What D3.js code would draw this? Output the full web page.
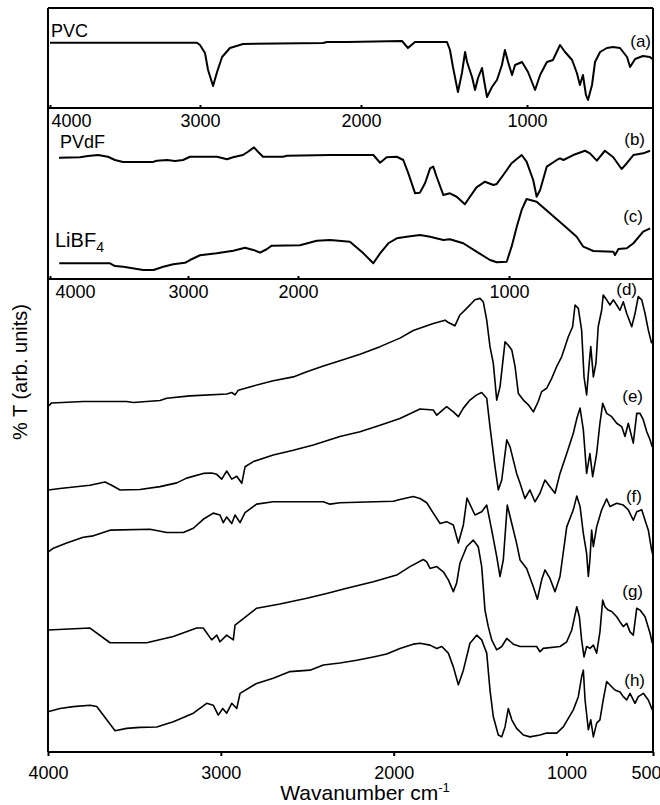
<!DOCTYPE html>
<html>
<head>
<meta charset="utf-8">
<script src="https://cdn.jsdelivr.net/npm/d3@7"></script>
<style>
  body { margin: 0; background: #fff; }
  text { font-family: Arial, "Liberation Sans", sans-serif; fill: #000; }
  .tick line { stroke: #000; stroke-width: 2; }
  .spec { fill: none; stroke: #000; stroke-linejoin: round; }
</style>
</head>
<body>
<div id="chart"></div>
<script>
// FTIR spectra, [wavenumber cm-1, %T in arb. units]
var pvc = [[4000,65.3],[3020,65.3],[3000,63],[2969,55],[2950,38],[2919,22],[2894,36],[2863,51],[2814,60],[2733,64],[2236,65],[2211,66],[2087,66],[1753,67],[1717,60],[1675,66],[1482,66],[1464,58],[1446,41],[1416,16],[1392,35],[1373,56],[1361,46],[1331,31],[1313,18],[1295,30],[1271,40],[1259,28],[1241,11],[1211,21],[1181,28],[1151,43],[1133,58],[1114,46],[1090,33],[1072,43],[1030,46],[996,36],[968,18],[948,33],[921,46],[897,48],[869,63],[849,56],[821,48],[802,35],[790,23],[778,33],[766,13],[758,8],[742,23],[730,46],[710,56],[683,60],[659,61],[631,60],[603,51],[591,41],[571,49],[540,52],[512,51],[504,49]];

var pvdf = [[3935,70.9],[3783,71.2],[3725,71.9],[3652,72.5],[3580,71.5],[3529,69.6],[3471,68.4],[3254,68.4],[3225,69.2],[3152,69.6],[3094,69.0],[3036,69.6],[2982,71.5],[2736,71.5],[2645,70.0],[2591,71.2],[2500,72.5],[2455,74.4],[2400,77.0],[2364,74.4],[2318,71.5],[2136,71.5],[2100,72.1],[1848,72.5],[1643,72.5],[1611,68.0],[1580,71.2],[1532,71.5],[1501,69.6],[1477,61.8],[1445,50.1],[1422,50.5],[1398,56.0],[1374,64.7],[1359,65.7],[1343,59.8],[1311,49.1],[1280,50.1],[1248,48.1],[1209,43.7],[1185,48.1],[1154,53.6],[1114,56.9],[1074,55.0],[1058,55.6],[1027,60.8],[991,67.7],[956,72.5],[939,68.6],[916,57.9],[904,48.1],[892,52.0],[869,65.7],[834,69.6],[823,70.6],[811,69.6],[777,72.5],[736,75.0],[719,73.5],[695,69.2],[667,75.0],[638,71.2],[609,64.3],[591,67.7],[568,72.5],[534,73.5],[510,75.0]];

var libf4 = [[3933,9.2],[3565,9.2],[3529,7.6],[3469,7.2],[3324,5.3],[3251,5.3],[3179,7.2],[3107,8.6],[3022,9.5],[2982,11.1],[2891,13.9],[2739,15.0],[2588,16.5],[2482,18.3],[2406,17.0],[2345,15.4],[2285,17.4],[2239,19.5],[1991,19.7],[1911,22.4],[1848,22.8],[1754,21.8],[1690,15.0],[1643,9.2],[1611,15.0],[1572,20.9],[1532,23.8],[1485,24.7],[1422,25.7],[1374,24.7],[1311,22.8],[1280,23.2],[1217,20.9],[1154,16.0],[1090,11.1],[1058,9.8],[1011,10.1],[991,18.9],[973,30.6],[956,40.4],[939,46.8],[904,45.2],[858,38.4],[811,31.6],[765,24.7],[742,18.9],[707,16.4],[638,16.0],[632,14.0],[620,17.5],[591,18.0],[568,20.9],[534,27.7],[510,29.6]];

var specD = [[3998,73.1],[3979,73.8],[3796,74.1],[3545,74.1],[3507,73.9],[3352,74.3],[3313,74.8],[3179,75.3],[2966,75.7],[2937,76.0],[2918,75.5],[2899,76.5],[2812,77.4],[2697,78.5],[2581,79.3],[2503,80.4],[2407,81.6],[2311,82.7],[2195,84.1],[2079,85.7],[1964,87.5],[1887,89.1],[1771,90.6],[1703,91.3],[1684,90.8],[1646,90.1],[1617,92.4],[1578,93.8],[1530,95.6],[1501,95.9],[1482,95.2],[1462,91.3],[1443,85.7],[1424,82.2],[1404,74.4],[1385,77.2],[1356,86.7],[1337,86.0],[1317,85.0],[1298,81.5],[1279,75.8],[1250,74.4],[1221,73.4],[1192,71.9],[1164,74.1],[1144,76.2],[1115,76.9],[1086,79.0],[1057,81.5],[1028,83.6],[1009,85.7],[990,87.8],[965,89.9],[951,94.5],[932,93.8],[913,89.2],[899,79.3],[884,75.5],[869,82.2],[860,85.7],[845,79.3],[830,82.2],[817,89.9],[797,93.4],[788,96.6],[768,95.6],[749,94.5],[730,95.6],[710,94.5],[691,93.4],[672,95.2],[652,92.7],[623,89.9],[604,92.7],[585,96.3],[565,95.6],[546,92.7],[527,89.2],[508,86.4]];

var specE = [[3998,55.4],[3931,55.7],[3757,56.4],[3670,57.1],[3632,56.4],[3583,55.4],[3468,55.5],[3352,56.1],[3255,56.9],[3198,57.9],[3102,58.9],[3053,59.0],[3024,58.7],[2995,57.7],[2966,59.4],[2937,57.7],[2908,58.3],[2879,56.8],[2860,60.3],[2812,61.4],[2697,62.8],[2581,63.8],[2465,64.9],[2311,66.7],[2195,67.7],[2079,69.1],[1964,70.5],[1848,72.5],[1771,72.3],[1751,71.2],[1694,73.0],[1655,71.9],[1626,70.9],[1597,72.7],[1559,74.4],[1520,75.5],[1491,76.0],[1462,74.8],[1443,68.8],[1414,60.3],[1395,55.4],[1375,57.5],[1346,66.0],[1327,64.5],[1308,61.7],[1289,58.9],[1269,56.8],[1241,53.6],[1212,55.4],[1183,52.9],[1154,54.7],[1125,57.5],[1096,56.1],[1067,54.7],[1038,58.9],[999,63.1],[961,67.4],[938,70.9],[922,72.7],[903,68.1],[884,58.9],[865,63.1],[849,58.2],[826,63.1],[807,69.5],[791,73.7],[768,71.6],[739,70.9],[710,69.5],[681,68.8],[662,66.7],[643,69.5],[614,65.3],[594,71.6],[575,71.6],[556,70.2],[536,67.7],[517,66.0],[504,64.5]];

var specF = [[3998,42.3],[3969,43.1],[3892,44.2],[3796,45.4],[3738,45.7],[3641,46.9],[3410,47.1],[3313,46.4],[3217,46.4],[3159,47.3],[3102,49.2],[3044,50.5],[3005,50.1],[2986,48.5],[2966,49.7],[2937,48.3],[2918,50.1],[2889,48.5],[2860,50.6],[2793,52.4],[2697,52.9],[2407,52.9],[2369,52.4],[2311,52.7],[2002,53.0],[1964,53.4],[1887,54.0],[1848,53.6],[1809,52.7],[1771,50.5],[1732,48.3],[1694,48.7],[1655,48.0],[1626,44.2],[1597,48.0],[1576,53.7],[1530,50.1],[1491,50.8],[1462,52.2],[1433,46.9],[1404,41.3],[1385,37.1],[1366,40.6],[1343,52.2],[1317,48.3],[1289,44.1],[1269,40.6],[1231,38.8],[1192,34.9],[1169,32.3],[1144,36.4],[1125,38.5],[1096,36.7],[1067,33.9],[1038,37.1],[999,47.6],[961,51.2],[941,54.1],[922,51.9],[903,46.2],[884,42.0],[874,37.1],[865,40.6],[855,46.9],[845,43.4],[826,47.6],[797,51.2],[768,53.5],[749,51.9],[710,52.6],[672,52.2],[643,51.2],[614,49.0],[594,50.8],[565,51.2],[546,49.0],[527,46.9],[508,42.7],[500,41.6]];

var specG = [[4000,25.8],[3757,26.2],[3641,23.1],[3429,23.1],[3275,24.4],[3140,26.2],[3102,26.2],[3053,23.7],[3024,24.7],[3005,23.3],[2966,24.7],[2928,23.7],[2918,26.8],[2793,30.4],[2658,31.3],[2503,32.5],[2388,33.5],[2272,34.6],[2118,36.0],[1983,37.4],[1906,39.2],[1829,40.7],[1809,40.2],[1790,38.8],[1751,39.2],[1713,38.1],[1684,36.4],[1655,33.9],[1636,35.7],[1617,39.9],[1578,43.4],[1540,44.8],[1511,43.4],[1491,39.2],[1472,30.0],[1453,26.5],[1433,23.7],[1404,21.6],[1375,22.3],[1346,24.0],[1308,22.8],[1269,22.3],[1173,22.3],[1154,21.2],[1135,21.9],[1038,22.3],[999,23.3],[970,25.8],[951,29.0],[941,30.7],[926,28.6],[913,23.7],[899,20.1],[884,22.3],[865,21.9],[845,22.6],[826,20.9],[807,25.4],[791,32.1],[778,30.7],[759,30.0],[739,29.7],[710,28.6],[691,27.5],[672,26.5],[652,27.2],[633,25.4],[614,24.7],[594,30.4],[575,30.0],[546,28.6],[517,25.1],[504,23.0]];

var specH = [[4000,8.5],[3931,9.2],[3854,9.6],[3757,9.9],[3718,9.6],[3660,6.8],[3612,4.5],[3545,5.0],[3468,5.2],[3371,5.3],[3275,6.4],[3159,8.2],[3082,10.3],[3044,9.9],[3015,7.8],[2989,9.2],[2966,8.2],[2937,10.3],[2908,9.2],[2889,12.4],[2793,14.5],[2697,15.6],[2600,17.0],[2484,17.3],[2407,18.4],[2311,18.8],[2214,19.4],[2118,20.1],[2041,20.7],[1964,21.9],[1887,22.8],[1848,23.0],[1790,22.6],[1751,21.9],[1722,22.3],[1684,20.9],[1655,18.0],[1626,14.2],[1597,17.3],[1559,23.0],[1520,24.7],[1491,23.7],[1462,20.9],[1443,13.1],[1424,7.5],[1395,3.6],[1375,3.2],[1356,5.3],[1337,9.2],[1317,6.8],[1289,5.0],[1250,3.6],[1212,3.2],[1154,3.6],[1115,4.0],[1057,4.0],[1019,5.3],[961,8.9],[932,11.7],[913,15.9],[903,17.3],[893,11.0],[874,4.7],[860,6.8],[845,3.2],[826,6.1],[807,6.8],[788,11.0],[768,14.9],[739,13.8],[720,13.1],[691,12.7],[672,11.7],[652,11.0],[633,12.4],[604,10.3],[585,11.7],[556,12.4],[527,11.0],[504,8.9]];

var topTicks = [4000, 3000, 2000, 1000];
var bottomTicks = [4000, 3000, 2000, 1000, 500];

// dimensions
var width = 660, height = 805;
var left = 48, right = 653;
var rows = [8, 108, 279, 752];   // horizontal lines of the frame

var svg = d3.select("#chart").append("svg")
    .attr("width", width)
    .attr("height", height)
    .style("background", "#fff");

// the upper two panels have their own (stretched) wavenumber axes
var x1 = d3.scaleLinear().domain([4000, 3000, 2000, 1000, 500]).range([50, 200, 361, 527, right]);
var x2 = d3.scaleLinear().domain([4000, 3000, 2000, 1000, 500]).range([50, 188, 298, 509, right]);
var x3 = d3.scaleLinear().domain([4000, 500]).range([left, right]);

var y1 = d3.scaleLinear().domain([0, 100]).range([rows[1], rows[0]]);
var y2 = d3.scaleLinear().domain([0, 100]).range([rows[2], rows[1]]);
var y3 = d3.scaleLinear().domain([0, 100]).range([rows[3], rows[2]]);

var fmt = d3.format("d");

function drawSpec(data, x, y, w) {
    var line = d3.line()
        .x(function(d) { return x(d[0]); })
        .y(function(d) { return y(d[1]); });
    svg.append("path")
        .datum(data)
        .attr("class", "spec")
        .attr("d", line)
        .style("stroke-width", w);
}

drawSpec(pvc, x1, y1, 2);
drawSpec(pvdf, x2, y2, 2);
drawSpec(libf4, x2, y2, 2);
[specD, specE, specF, specG, specH].forEach(function(s) {
    drawSpec(s, x3, y3, 1.6);
});

// axes between the panels, ticks pointing up, labels below
function innerAxis(x, yPos, pad, firstDx) {
    var ax = svg.append("g")
        .attr("transform", "translate(0," + yPos + ")")
        .call(d3.axisBottom(x).tickValues(topTicks).tickFormat(fmt)
            .tickSizeInner(-3).tickSizeOuter(0).tickPadding(pad));
    ax.select(".domain").remove();
    ax.selectAll("text").style("font-size", "18px");
    ax.selectAll(".tick").filter(function(d) { return d == 4000; })
        .select("text").attr("text-anchor", "start").attr("dx", firstDx);
}
innerAxis(x1, rows[1], 6, 1);
innerAxis(x2, rows[2], 6, 5);

var bottom = svg.append("g")
    .attr("transform", "translate(0," + rows[3] + ")")
    .call(d3.axisBottom(x3).tickValues(bottomTicks).tickFormat(fmt)
        .tickSizeInner(4).tickSizeOuter(0).tickPadding(10));
bottom.select(".domain").remove();
bottom.selectAll("text").style("font-size", "18px");
bottom.selectAll(".tick").filter(function(d) { return d == 500; })
    .select("text").attr("text-anchor", "end").attr("dx", 8);

// frame
var frame = svg.append("g").attr("stroke", "#000").attr("stroke-width", 2);
rows.forEach(function(r) {
    frame.append("line").attr("x1", left).attr("x2", right).attr("y1", r).attr("y2", r);
});
frame.append("line").attr("x1", left).attr("x2", left).attr("y1", rows[0]).attr("y2", rows[3]);
frame.append("line").attr("x1", right).attr("x2", right).attr("y1", rows[0]).attr("y2", rows[3]);

// sample labels
function label(txt, xPos, yPos, anchor, size) {
    return svg.append("text")
        .attr("x", xPos).attr("y", yPos)
        .attr("text-anchor", anchor)
        .style("font-size", size + "px")
        .text(txt);
}
label("PVC", 51, 37, "start", 18);
label("(a)", 651, 47, "end", 17);
label("PVdF", 60, 148, "start", 18);
label("(b)", 645, 145, "end", 17);
var li = label("LiBF", 55, 247, "start", 20);
li.append("tspan").attr("dy", 5).style("font-size", "14px").text("4");
label("(c)", 643, 222, "end", 17);
label("(d)", 637, 295, "end", 17);
label("(e)", 643, 402, "end", 17);
label("(f)", 642, 502, "end", 17);
label("(g)", 643, 597, "end", 17);
label("(h)", 645, 686, "end", 17);

// axis titles
var xt = svg.append("text")
    .attr("x", 365).attr("y", 800)
    .attr("text-anchor", "middle")
    .style("font-size", "21px")
    .text("Wavanumber cm");
xt.append("tspan").attr("dy", -8).style("font-size", "13px").text("-1");

svg.append("text")
    .attr("transform", "translate(27,372) rotate(-90)")
    .attr("text-anchor", "middle")
    .style("font-size", "20px")
    .text("% T (arb. units)");
</script>
</body>
</html>
